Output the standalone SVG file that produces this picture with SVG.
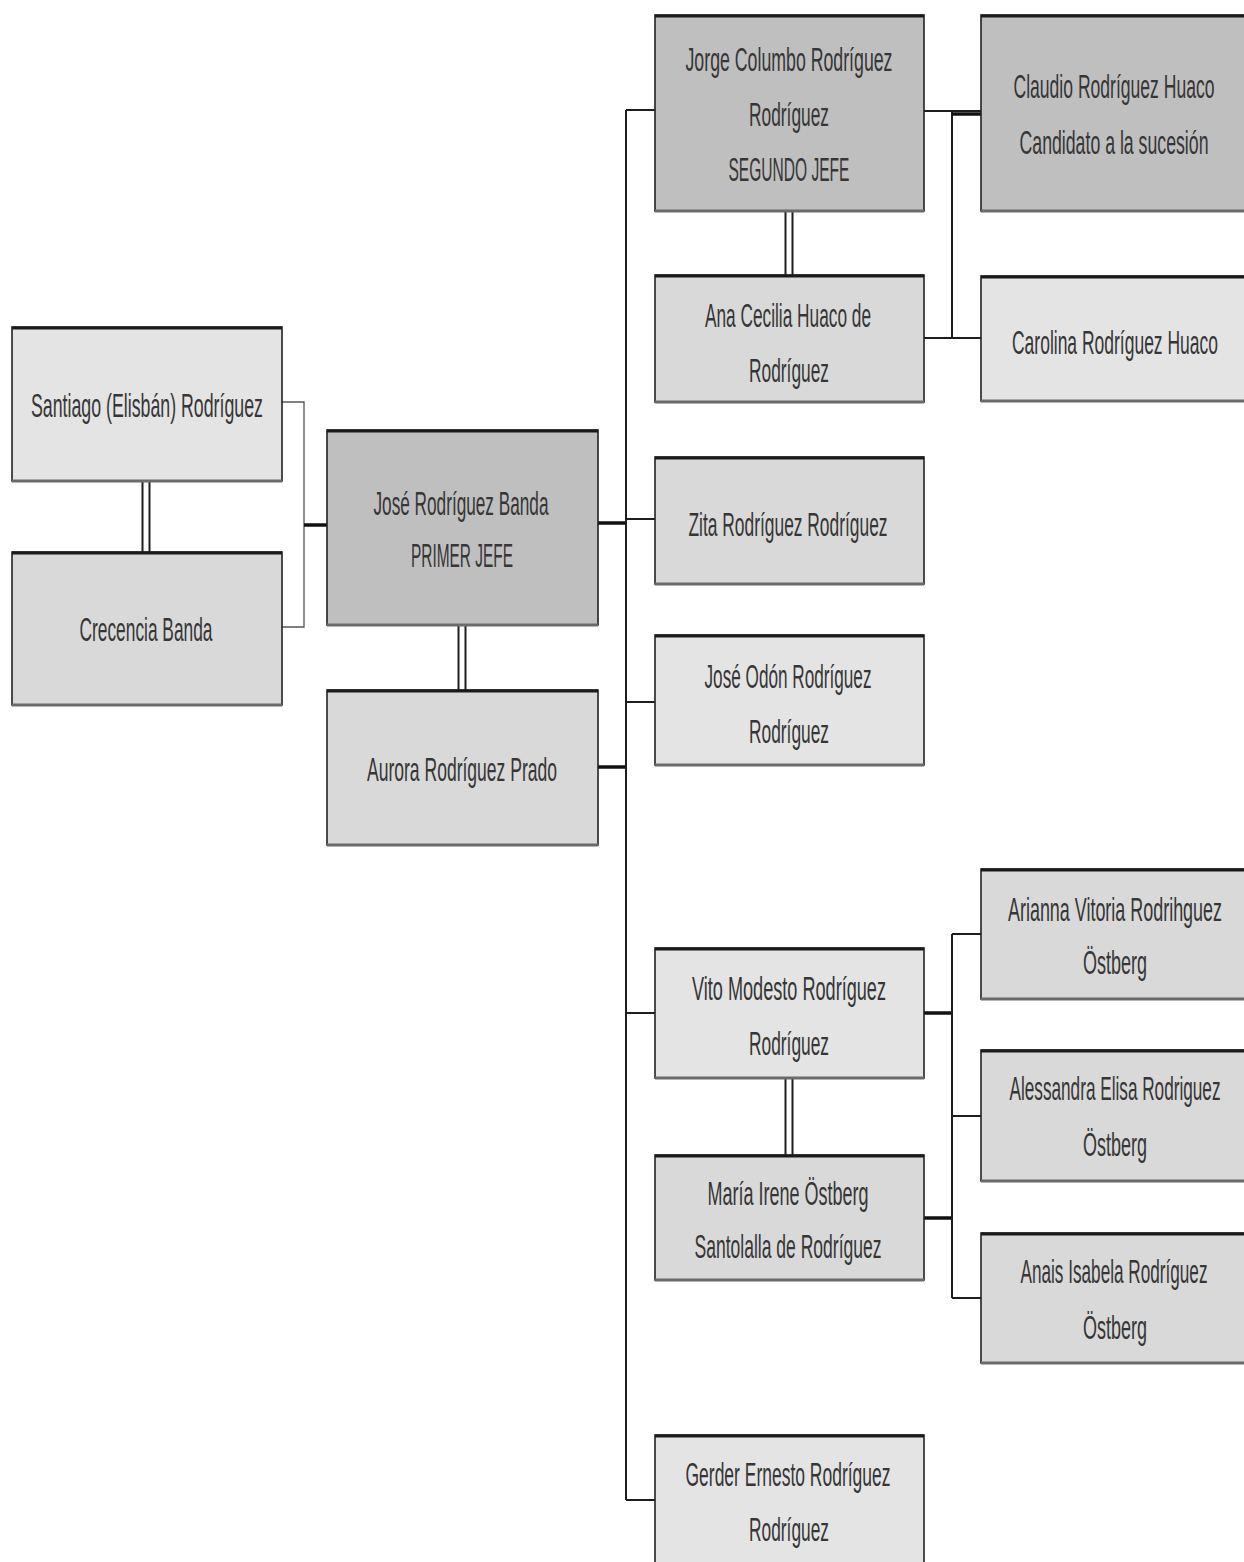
<svg xmlns="http://www.w3.org/2000/svg" width="1244" height="1562" viewBox="0 0 1244 1562">
  <style>
    .box { stroke: #222; stroke-width: 1.6; }
    .top { stroke: #1a1a1a; stroke-width: 3; }
    .shadow { stroke: #6a6a6a; stroke-width: 3; }
    .dark { fill: #bfbfbf; }
    .mid { fill: #d9d9d9; }
    .light { fill: #e4e4e4; }
    text { font-family: "Liberation Sans", Arial, sans-serif; font-size: 34px; fill: #363636; text-anchor: middle; }
    .ln { fill: none; stroke: #1e1e1e; stroke-width: 2; }
    .thin { fill: none; stroke: #555; stroke-width: 1.3; }
    .thick { fill: none; stroke: #111; stroke-width: 3.5; }
  </style>

  <!-- connectors -->
  <g id="connectors">
    <!-- parents of José -->
    <path class="thin" d="M282 402 H304 V627 H282"/>
    <path class="thick" d="M304 525 H327"/>
    <path class="ln" d="M142.5 481 V552 M149.5 481 V552"/>
    <!-- José + Aurora -->
    <path class="ln" d="M458.5 625 V690 M465.5 625 V690"/>
    <path class="thick" d="M598 523 H626"/>
    <path class="thick" d="M598 767 H626"/>
    <!-- children trunk -->
    <path class="ln" d="M626 110 V1500"/>
    <path class="ln" d="M626 110 H655 M626 519 H655 M626 702 H655 M626 1013 H655 M626 1500 H655"/>
    <!-- Jorge + Ana -->
    <path class="ln" d="M785.5 211 V275 M792.5 211 V275"/>
    <path class="ln" d="M924 111 H981 M952 111 V338 M924 338 H981"/>
    <path class="thick" d="M952 114 H981"/>
    <!-- Vito + María -->
    <path class="ln" d="M785.5 1078 V1155 M792.5 1078 V1155"/>
    <path class="thick" d="M924 1013 H952 M924 1218 H952"/>
    <path class="ln" d="M952 934 V1298 M952 934 H981 M952 1116 H981 M952 1298 H981"/>
  </g>

  <!-- labels are set in a condensed face: each text is squeezed to half width -->
  <g id="santiago">
    <rect class="box light" x="12" y="327" width="270" height="154"/>
    <path class="top" d="M12 328 H282"/><path class="shadow" d="M12 481 H282"/>
    <text transform="scale(0.5 1)" x="294" y="417" textLength="464" lengthAdjust="spacingAndGlyphs">Santiago  (Elisbán) Rodríguez</text>
  </g>
  <g id="crecencia">
    <rect class="box mid" x="12" y="552" width="270" height="153"/>
    <path class="top" d="M12 553 H282"/><path class="shadow" d="M12 705 H282"/>
    <text transform="scale(0.5 1)" x="292" y="641" textLength="266" lengthAdjust="spacingAndGlyphs">Crecencia Banda</text>
  </g>
  <g id="jose">
    <rect class="box dark" x="327" y="430" width="271" height="195"/>
    <path class="top" d="M327 431 H598"/><path class="shadow" d="M327 625 H598"/>
    <text transform="scale(0.5 1)" x="922" y="515" textLength="350" lengthAdjust="spacingAndGlyphs">José Rodríguez  Banda</text>
    <text transform="scale(0.5 1)" x="924" y="567" textLength="204" lengthAdjust="spacingAndGlyphs">PRIMER JEFE</text>
  </g>
  <g id="aurora">
    <rect class="box mid" x="327" y="690" width="271" height="155"/>
    <path class="top" d="M327 691 H598"/><path class="shadow" d="M327 845 H598"/>
    <text transform="scale(0.5 1)" x="924" y="781" textLength="380" lengthAdjust="spacingAndGlyphs">Aurora Rodríguez Prado</text>
  </g>
  <g id="jorge">
    <rect class="box dark" x="655" y="15" width="269" height="196"/>
    <path class="top" d="M655 16 H924"/><path class="shadow" d="M655 211 H924"/>
    <text transform="scale(0.5 1)" x="1578" y="71" textLength="414" lengthAdjust="spacingAndGlyphs">Jorge Columbo Rodríguez</text>
    <text transform="scale(0.5 1)" x="1578" y="126" textLength="160" lengthAdjust="spacingAndGlyphs">Rodríguez</text>
    <text transform="scale(0.5 1)" x="1578" y="181" textLength="242" lengthAdjust="spacingAndGlyphs">SEGUNDO JEFE</text>
  </g>
  <g id="claudio">
    <rect class="box dark" x="981" y="15" width="266" height="196"/>
    <path class="top" d="M981 16 H1244"/><path class="shadow" d="M981 211 H1244"/>
    <text transform="scale(0.5 1)" x="2228" y="98" textLength="402" lengthAdjust="spacingAndGlyphs">Claudio Rodríguez Huaco</text>
    <text transform="scale(0.5 1)" x="2228" y="154" textLength="378" lengthAdjust="spacingAndGlyphs">Candidato a la sucesión</text>
  </g>
  <g id="ana">
    <rect class="box mid" x="655" y="275" width="269" height="127"/>
    <path class="top" d="M655 276 H924"/><path class="shadow" d="M655 402 H924"/>
    <text transform="scale(0.5 1)" x="1576" y="327" textLength="332" lengthAdjust="spacingAndGlyphs">Ana Cecilia Huaco de</text>
    <text transform="scale(0.5 1)" x="1578" y="382" textLength="160" lengthAdjust="spacingAndGlyphs">Rodríguez</text>
  </g>
  <g id="carolina">
    <rect class="box light" x="981" y="276" width="266" height="125"/>
    <path class="top" d="M981 277 H1244"/><path class="shadow" d="M981 401 H1244"/>
    <text transform="scale(0.5 1)" x="2230" y="354" textLength="412" lengthAdjust="spacingAndGlyphs">Carolina Rodríguez Huaco</text>
  </g>
  <g id="zita">
    <rect class="box mid" x="655" y="457" width="269" height="127"/>
    <path class="top" d="M655 458 H924"/><path class="shadow" d="M655 584 H924"/>
    <text transform="scale(0.5 1)" x="1576" y="536" textLength="398" lengthAdjust="spacingAndGlyphs">Zita Rodríguez Rodríguez</text>
  </g>
  <g id="jose-odon">
    <rect class="box light" x="655" y="635" width="269" height="130"/>
    <path class="top" d="M655 636 H924"/><path class="shadow" d="M655 765 H924"/>
    <text transform="scale(0.5 1)" x="1576" y="688" textLength="334" lengthAdjust="spacingAndGlyphs">José Odón Rodríguez</text>
    <text transform="scale(0.5 1)" x="1578" y="743" textLength="160" lengthAdjust="spacingAndGlyphs">Rodríguez</text>
  </g>
  <g id="vito">
    <rect class="box light" x="655" y="948" width="269" height="130"/>
    <path class="top" d="M655 949 H924"/><path class="shadow" d="M655 1078 H924"/>
    <text transform="scale(0.5 1)" x="1578" y="1000" textLength="388" lengthAdjust="spacingAndGlyphs">Vito Modesto Rodríguez</text>
    <text transform="scale(0.5 1)" x="1578" y="1055" textLength="160" lengthAdjust="spacingAndGlyphs">Rodríguez</text>
  </g>
  <g id="maria-irene">
    <rect class="box mid" x="655" y="1155" width="269" height="125"/>
    <path class="top" d="M655 1156 H924"/><path class="shadow" d="M655 1280 H924"/>
    <text transform="scale(0.5 1)" x="1576" y="1205" textLength="322" lengthAdjust="spacingAndGlyphs">María Irene Östberg</text>
    <text transform="scale(0.5 1)" x="1576" y="1258" textLength="374" lengthAdjust="spacingAndGlyphs">Santolalla de Rodríguez</text>
  </g>
  <g id="arianna">
    <rect class="box mid" x="981" y="869" width="266" height="130"/>
    <path class="top" d="M981 870 H1244"/><path class="shadow" d="M981 999 H1244"/>
    <text transform="scale(0.5 1)" x="2230" y="921" textLength="428" lengthAdjust="spacingAndGlyphs">Arianna Vitoria Rodrihguez</text>
    <text transform="scale(0.5 1)" x="2230" y="974" textLength="128" lengthAdjust="spacingAndGlyphs">Östberg</text>
  </g>
  <g id="alessandra">
    <rect class="box mid" x="981" y="1050" width="266" height="131"/>
    <path class="top" d="M981 1051 H1244"/><path class="shadow" d="M981 1181 H1244"/>
    <text transform="scale(0.5 1)" x="2230" y="1100" textLength="422" lengthAdjust="spacingAndGlyphs">Alessandra Elisa Rodriguez</text>
    <text transform="scale(0.5 1)" x="2230" y="1156" textLength="128" lengthAdjust="spacingAndGlyphs">Östberg</text>
  </g>
  <g id="anais">
    <rect class="box mid" x="981" y="1233" width="266" height="130"/>
    <path class="top" d="M981 1234 H1244"/><path class="shadow" d="M981 1363 H1244"/>
    <text transform="scale(0.5 1)" x="2228" y="1283" textLength="374" lengthAdjust="spacingAndGlyphs">Anais Isabela Rodríguez</text>
    <text transform="scale(0.5 1)" x="2230" y="1339" textLength="128" lengthAdjust="spacingAndGlyphs">Östberg</text>
  </g>
  <g id="gerder">
    <rect class="box light" x="655" y="1435" width="269" height="140"/>
    <path class="top" d="M655 1436 H924"/>
    <text transform="scale(0.5 1)" x="1576" y="1486" textLength="410" lengthAdjust="spacingAndGlyphs">Gerder Ernesto Rodríguez</text>
    <text transform="scale(0.5 1)" x="1578" y="1541" textLength="160" lengthAdjust="spacingAndGlyphs">Rodríguez</text>
  </g>
</svg>
